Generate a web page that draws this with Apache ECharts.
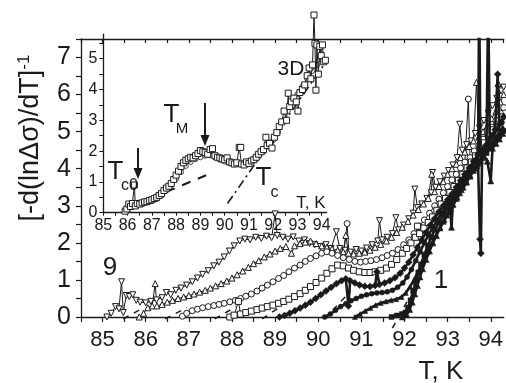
<!DOCTYPE html>
<html><head><meta charset="utf-8">
<script src="https://cdn.jsdelivr.net/npm/echarts@6/dist/echarts.min.js"></script>
<style>html,body{margin:0;padding:0;background:#fff}#c{width:506px;height:383px}</style>
</head><body><div id="c"></div>
<script>
// ---- main panel data: curves 9 .. 1 ([T, value]) ----
const curve9 = [[85.10,0.00],[85.20,0.10],[85.30,0.28],[85.38,0.22],[85.44,0.95],[85.48,0.12],[85.55,0.58],[85.62,0.55],[85.70,0.60],[85.78,0.45],[85.87,0.40],[86.00,0.38],[86.12,0.42],[86.25,0.46],[86.38,0.52],[86.48,0.66],[86.58,0.60],[86.70,0.72],[86.82,0.78],[86.95,0.86],[87.08,0.95],[87.20,1.05],[87.32,1.15],[87.45,1.25],[87.58,1.38],[87.70,1.48],[87.82,1.62],[87.94,1.78],[88.05,1.92],[88.18,2.05],[88.30,2.10],[88.42,2.08],[88.55,2.15],[88.68,2.12],[88.80,2.18],[88.92,2.14],[89.00,2.78],[89.05,2.20],[89.18,2.15],[89.30,2.10],[89.42,2.16],[89.55,2.05],[89.68,2.08],[89.80,1.98],[89.92,1.95],[90.05,1.90],[90.18,1.95],[90.30,1.85],[90.42,2.30],[90.50,1.85],[90.62,1.80],[90.75,1.75],[90.88,1.82],[91.00,1.78],[91.12,1.86],[91.25,1.95],[91.38,2.05],[91.42,2.60],[91.48,2.08],[91.60,2.15],[91.72,2.25],[91.80,2.68],[91.86,2.35],[91.98,2.48],[92.10,2.65],[92.20,2.80],[92.24,3.45],[92.30,2.95],[92.40,3.05],[92.52,3.20],[92.62,3.35],[92.65,3.90],[92.72,3.50],[92.82,3.65],[92.92,3.80],[93.02,3.95],[93.12,4.10],[93.22,4.30],[93.28,5.20],[93.34,4.50],[93.44,4.65],[93.54,4.75],[93.64,4.95],[93.74,5.10],[93.84,5.30],[93.94,5.50],[94.04,5.70],[94.14,5.90],[94.24,6.10],[94.30,6.20]];
const curve8 = [[85.85,0.00],[85.95,0.10],[86.05,0.25],[86.15,0.30],[86.22,0.90],[86.26,0.30],[86.38,0.34],[86.50,0.40],[86.62,0.45],[86.75,0.50],[86.88,0.54],[87.00,0.58],[87.12,0.62],[87.25,0.67],[87.38,0.72],[87.50,0.78],[87.62,0.84],[87.75,0.90],[87.88,0.97],[88.00,1.05],[88.12,1.14],[88.25,1.24],[88.38,1.34],[88.50,1.44],[88.62,1.52],[88.75,1.62],[88.88,1.70],[89.00,1.78],[89.12,1.85],[89.25,1.90],[89.38,1.72],[89.45,1.92],[89.58,1.98],[89.70,2.02],[89.82,2.05],[89.95,1.98],[90.08,1.92],[90.20,1.88],[90.32,1.84],[90.45,1.80],[90.58,1.76],[90.64,2.20],[90.70,1.72],[90.82,1.70],[90.95,1.72],[91.08,1.75],[91.20,1.80],[91.32,1.88],[91.45,1.96],[91.58,2.05],[91.70,2.15],[91.82,2.28],[91.95,2.42],[92.08,2.58],[92.20,2.75],[92.32,2.90],[92.44,3.05],[92.55,3.20],[92.63,3.85],[92.70,3.38],[92.80,3.52],[92.90,3.65],[93.00,3.85],[93.10,4.00],[93.20,4.12],[93.30,4.30],[93.40,4.45],[93.50,4.60],[93.60,4.75],[93.67,6.33],[93.72,4.85],[93.82,5.00],[93.92,5.15],[94.02,5.35],[94.12,5.55],[94.17,6.30],[94.22,5.80],[94.30,6.00]];
const curve7 = [[86.85,0.02],[86.95,0.10],[87.08,0.17],[87.20,0.21],[87.32,0.25],[87.45,0.28],[87.58,0.31],[87.70,0.34],[87.82,0.37],[87.95,0.41],[88.08,0.45],[88.20,0.50],[88.32,0.56],[88.45,0.62],[88.58,0.70],[88.70,0.78],[88.82,0.86],[88.95,0.95],[89.08,1.04],[89.20,1.12],[89.32,1.22],[89.45,1.32],[89.58,1.40],[89.70,1.50],[89.82,1.58],[89.95,1.65],[90.08,1.72],[90.20,1.76],[90.32,1.72],[90.45,1.66],[90.58,1.60],[90.67,2.52],[90.72,1.55],[90.85,1.50],[90.98,1.48],[91.10,1.50],[91.22,1.52],[91.35,1.55],[91.48,1.60],[91.60,1.66],[91.72,1.72],[91.85,1.82],[91.98,1.95],[92.10,2.08],[92.22,2.25],[92.34,2.45],[92.46,2.62],[92.58,2.80],[92.70,3.00],[92.80,3.18],[92.90,3.35],[93.00,3.52],[93.10,3.70],[93.20,3.85],[93.30,4.02],[93.40,4.18],[93.48,5.88],[93.52,4.30],[93.62,4.48],[93.72,4.62],[93.82,4.80],[93.92,4.95],[94.02,5.12],[94.12,5.30],[94.22,5.50],[94.30,5.65]];
const curve6 = [[87.95,0.00],[88.05,0.05],[88.15,0.42],[88.20,0.08],[88.32,0.12],[88.45,0.16],[88.58,0.20],[88.70,0.24],[88.82,0.28],[88.95,0.32],[89.08,0.37],[89.20,0.42],[89.32,0.48],[89.45,0.55],[89.58,0.63],[89.70,0.72],[89.82,0.82],[89.95,0.93],[90.08,1.05],[90.20,1.18],[90.32,1.30],[90.45,1.40],[90.58,1.38],[90.70,1.32],[90.82,1.26],[90.95,1.22],[91.08,1.20],[91.20,1.20],[91.32,1.22],[91.45,1.26],[91.58,1.32],[91.70,1.42],[91.82,1.55],[91.95,1.72],[92.05,1.85],[92.15,2.00],[92.25,2.15],[92.30,2.45],[92.35,2.25],[92.45,2.40],[92.55,2.55],[92.65,2.70],[92.75,2.88],[92.85,3.05],[92.95,3.20],[93.05,3.36],[93.15,3.52],[93.25,3.68],[93.35,3.85],[93.45,4.02],[93.55,4.18],[93.65,4.35],[93.75,4.55],[93.85,4.70],[93.95,4.88],[94.05,5.05],[94.15,5.20],[94.25,5.40]];
const curve5 = [[89.10,0.00],[89.22,0.04],[89.34,0.10],[89.46,0.17],[89.58,0.24],[89.70,0.32],[89.82,0.40],[89.94,0.50],[90.06,0.60],[90.18,0.70],[90.30,0.80],[90.42,0.90],[90.54,0.98],[90.64,1.03],[90.70,0.30],[90.74,0.98],[90.85,0.92],[90.96,0.86],[91.08,0.83],[91.20,0.82],[91.32,0.85],[91.36,1.22],[91.42,0.88],[91.54,0.92],[91.66,0.98],[91.78,1.06],[91.90,1.18],[92.00,1.32],[92.10,1.48],[92.20,1.68],[92.30,1.88],[92.40,2.08],[92.50,2.28],[92.60,2.48],[92.70,2.66],[92.80,2.84],[92.90,3.00],[93.00,3.16],[93.10,3.32],[93.20,3.50],[93.30,3.68],[93.40,3.85],[93.50,4.02],[93.60,4.20],[93.70,4.38],[93.75,2.10],[93.77,1.72],[93.80,4.50],[93.90,4.65],[94.00,4.85],[94.10,5.05],[94.16,6.55],[94.20,5.20],[94.30,5.40]];
const curve4 = [[90.15,0.00],[90.28,0.08],[90.40,0.18],[90.52,0.28],[90.64,0.36],[90.76,0.44],[90.88,0.50],[91.00,0.56],[91.12,0.60],[91.24,0.63],[91.36,0.65],[91.48,0.66],[91.60,0.68],[91.72,0.72],[91.84,0.80],[91.96,0.92],[92.06,1.08],[92.16,1.28],[92.26,1.52],[92.36,1.76],[92.46,2.00],[92.56,2.22],[92.66,2.42],[92.76,2.62],[92.86,2.80],[92.96,2.98],[93.06,3.15],[93.16,3.32],[93.26,3.50],[93.36,3.68],[93.46,3.85],[93.56,4.02],[93.66,4.20],[93.71,4.40],[93.73,9.00],[93.76,4.40],[93.86,4.55],[93.96,4.72],[94.06,4.90],[94.16,5.08],[94.26,5.25]];
const curve3 = [[90.85,0.00],[90.97,0.08],[91.09,0.16],[91.21,0.24],[91.33,0.32],[91.45,0.38],[91.57,0.42],[91.69,0.45],[91.81,0.48],[91.93,0.54],[92.03,0.65],[92.13,0.82],[92.23,1.02],[92.33,1.25],[92.43,1.50],[92.53,1.75],[92.63,1.98],[92.73,2.20],[92.83,2.42],[92.93,2.62],[93.03,2.82],[93.13,3.02],[93.23,3.22],[93.33,3.42],[93.43,3.62],[93.53,3.82],[93.63,4.00],[93.73,4.18],[93.83,4.35],[93.90,4.50],[93.94,8.50],[93.98,4.60],[94.08,4.78],[94.18,4.95],[94.28,5.12]];
const curve2 = [[91.70,0.00],[91.82,0.04],[91.94,0.08],[92.02,0.12],[92.08,0.25],[92.14,0.45],[92.20,0.70],[92.26,0.95],[92.32,1.20],[92.38,1.42],[92.46,1.68],[92.54,1.92],[92.62,2.15],[92.70,2.35],[92.80,2.55],[92.90,2.75],[93.00,2.95],[93.10,3.12],[93.20,3.30],[93.30,3.48],[93.40,3.65],[93.50,3.82],[93.60,3.98],[93.70,4.12],[93.80,4.28],[93.90,4.42],[94.00,4.58],[94.10,4.72],[94.20,4.88],[94.30,5.02]];
const curve1 = [[91.95,0.00],[92.05,0.06],[92.12,0.20],[92.18,0.40],[92.24,0.62],[92.30,0.85],[92.36,1.08],[92.42,1.30],[92.50,1.55],[92.58,1.78],[92.66,2.00],[92.74,2.20],[92.82,2.40],[92.90,2.58],[92.98,2.75],[93.06,2.92],[93.09,2.42],[93.12,3.05],[93.20,3.20],[93.28,3.35],[93.36,3.50],[93.44,3.65],[93.52,3.80],[93.60,3.95],[93.68,4.08],[93.76,4.22],[93.84,4.35],[93.92,4.20],[94.00,3.67],[94.04,4.55],[94.12,4.68],[94.20,4.80],[94.28,4.95]];
// dashed onset tangents (main), short visible stubs near the axis
const tangents = [
  [[85.48,-0.05],[85.95,0.25]],
  [[86.45,-0.05],[86.95,0.25]],
  [[87.60,-0.05],[88.10,0.28]],
  [[88.70,-0.05],[89.15,0.30]],
  [[90.15,-0.05],[90.75,0.70]],
  [[91.72,-0.30],[92.10,0.50]]
];
// ---- inset data ----
const insetSquares = [[85.90,0.05],[85.97,0.12],[86.05,0.28],[86.12,0.20],[86.20,0.30],[86.28,0.90],[86.32,0.22],[86.40,0.30],[86.50,0.28],[86.60,0.32],[86.70,0.35],[86.80,0.36],[86.90,0.40],[87.00,0.42],[87.10,0.46],[87.20,0.50],[87.30,0.56],[87.40,0.62],[87.50,0.72],[87.60,0.80],[87.70,0.86],[87.80,0.95],[87.90,1.08],[88.00,1.22],[88.10,1.35],[88.20,1.50],[88.30,1.62],[88.40,1.70],[88.50,1.75],[88.60,1.80],[88.70,1.78],[88.80,1.85],[88.90,1.92],[89.00,2.02],[89.10,1.98],[89.20,1.95],[89.30,1.90],[89.40,2.05],[89.50,2.08],[89.60,1.85],[89.70,1.80],[89.80,1.78],[89.90,1.75],[90.00,1.72],[90.10,1.78],[90.20,1.65],[90.30,1.62],[90.40,1.58],[90.50,1.62],[90.60,2.12],[90.66,2.12],[90.70,1.58],[90.80,1.55],[90.90,1.65],[91.00,1.60],[91.10,1.68],[91.20,1.72],[91.30,1.80],[91.40,1.90],[91.50,1.98],[91.60,2.05],[91.70,2.45],[91.75,2.18],[91.85,2.25],[91.95,2.10],[92.05,2.45],[92.15,2.60],[92.25,2.80],[92.35,2.95],[92.45,3.30],[92.55,3.00],[92.62,3.88],[92.68,3.45],[92.75,3.60],[92.85,3.72],[92.95,3.60],[93.02,3.30],[93.10,3.90],[93.20,4.00],[93.30,4.15],[93.40,4.45],[93.48,4.70],[93.55,4.35],[93.62,4.80],[93.68,6.42],[93.72,5.50],[93.76,3.98],[93.80,5.45],[93.86,4.50],[93.92,5.40],[93.98,5.10],[94.03,5.45],[94.08,4.90],[94.15,4.95]];
const insetCircles = [[86.00,0.08],[86.20,0.22],[86.40,0.25],[86.60,0.28],[86.80,0.33],[87.00,0.38],[87.20,0.45],[87.40,0.56],[87.60,0.72],[87.80,0.90],[88.00,1.10],[88.20,1.32],[88.40,1.52],[88.60,1.65],[88.80,1.74],[89.00,1.80],[89.20,1.85],[89.40,1.86],[89.60,1.80],[89.80,1.72],[90.00,1.66],[90.20,1.62],[90.40,1.60],[90.60,1.60],[90.80,1.62],[91.00,1.66],[91.20,1.72],[91.40,1.82],[91.60,1.98],[91.80,2.15],[92.00,2.35],[92.20,2.62],[92.40,2.95],[92.60,3.30],[92.80,3.60],[93.00,3.85],[93.20,4.10],[93.40,4.35],[93.60,4.60],[93.80,4.80],[94.00,5.00],[94.10,4.90]];
const insetMFLine = [[87.60,0.68],[89.40,1.27]];
const inset3DLine = [[90.12,0.30],[95.10,5.95]];
// tick label sets
const mainXLabels = [85,86,87,88,89,90,91,92,93,94];
const mainYLabels = [0,1,2,3,4,5,6,7];
const insetXLabels = [85,86,87,88,89,90,91,92,93,94];
const insetYLabels = [0,1,2,3,4,5];

const INK = '#1a1a1a';
const FONT = 'Liberation Sans, Arial, sans-serif';
const isLab = (arr) => (v) => arr.some(a => Math.abs(a - v) < 1e-6) ? String(Math.round(v)) : '';

const chart = echarts.init(document.getElementById('c'), null, {renderer:'canvas'});

function openSeries(data, symbol, rot, size){
  return {type:'line', xAxisIndex:0, yAxisIndex:0, data, symbol, symbolRotate:rot||0, symbolSize:size||6,
    showAllSymbol:true, animation:false, silent:true, z:3,
    itemStyle:{color:'#fff', borderColor:INK, borderWidth:1},
    lineStyle:{color:INK, width:1}};
}
function filledSeries(data, symbol, size){
  return {type:'line', xAxisIndex:0, yAxisIndex:0, data, symbol, symbolSize:size||5,
    showAllSymbol:true, animation:false, silent:true, z:4,
    itemStyle:{color:INK, borderColor:INK, borderWidth:0.5},
    lineStyle:{color:INK, width:2.6}};
}
const series = [
  openSeries(curve9,'triangle',180,6),
  openSeries(curve8,'triangle',0,6),
  openSeries(curve7,'circle',0,6),
  openSeries(curve6,'rect',0,6),
  filledSeries(curve5,'diamond',7),
  filledSeries(curve4,'circle',5),
  filledSeries(curve3,'triangle',5),
  filledSeries(curve2,'rect',5),
  filledSeries(curve1,'triangle',6)
];
tangents.forEach(t => series.push({type:'line', xAxisIndex:0, yAxisIndex:0, data:t, symbol:'none', clip:false,
  animation:false, silent:true, z:2, lineStyle:{color:INK, width:1.5, type:[6,6]}}));
series.push({type:'line', xAxisIndex:2, yAxisIndex:1, data:insetCircles, symbol:'circle', symbolSize:5,
  showAllSymbol:true, clip:false, animation:false, silent:true, z:3,
  itemStyle:{color:'#fff', borderColor:'#444', borderWidth:1}, lineStyle:{color:'#444', width:1}});
series.push({type:'line', xAxisIndex:2, yAxisIndex:1, data:insetSquares, symbol:'rect', symbolSize:6,
  showAllSymbol:true, clip:false, animation:false, silent:true, z:4,
  itemStyle:{color:'#fff', borderColor:INK, borderWidth:1}, lineStyle:{color:INK, width:1}});
series.push({type:'line', xAxisIndex:2, yAxisIndex:1, data:insetMFLine, symbol:'none', clip:false,
  animation:false, silent:true, z:2, lineStyle:{color:INK, width:2, type:[9,8]}});
series.push({type:'line', xAxisIndex:2, yAxisIndex:1, data:inset3DLine, symbol:'none', clip:false,
  animation:false, silent:true, z:2, lineStyle:{color:INK, width:1.6, type:[9,4,2,4]}});

const axLine = {show:true, lineStyle:{color:INK, width:1.3}};
chart.setOption({
  backgroundColor:'#fff',
  animation:false,
  grid:[
    {left:81, top:39, width:424.3, height:278},
    {left:103.3, top:34.1, width:223.3, height:178.6}
  ],
  xAxis:[
    {type:'value', gridIndex:0, min:84.5, max:94.3, interval:0.5, position:'bottom',
     axisLine:axLine, axisTick:{show:true, inside:false, length:5, lineStyle:{color:INK, width:1.2}},
     splitLine:{show:false},
     axisLabel:{formatter:isLab(mainXLabels), fontSize:22, fontFamily:FONT, color:INK, margin:12, showMaxLabel:false}},
    {type:'value', gridIndex:0, min:84.5, max:94.3, interval:0.5, position:'top',
     axisLine:axLine, axisTick:{show:true, inside:true, length:4, lineStyle:{color:INK, width:1.2}},
     splitLine:{show:false}, axisLabel:{show:false}},
    {type:'value', gridIndex:1, min:85, max:94.2, interval:0.5, position:'bottom',
     axisLine:axLine, axisTick:{show:true, inside:false, length:3, lineStyle:{color:INK}},
     splitLine:{show:false},
     axisLabel:{formatter:isLab(insetXLabels), fontSize:16, fontFamily:FONT, color:INK, margin:5, showMaxLabel:false}}
  ],
  yAxis:[
    {type:'value', gridIndex:0, min:0, max:7.5, interval:0.5,
     axisLine:axLine, axisTick:{show:true, inside:false, length:5, lineStyle:{color:INK, width:1.2}},
     splitLine:{show:false},
     axisLabel:{formatter:isLab(mainYLabels), fontSize:25, fontFamily:FONT, color:INK, margin:10}},
    {type:'value', gridIndex:1, min:0, max:5.8, interval:0.5,
     axisLine:axLine, axisTick:{show:true, inside:false, length:4, lineStyle:{color:INK}},
     splitLine:{show:false},
     axisLabel:{formatter:isLab(insetYLabels), fontSize:16, fontFamily:FONT, color:INK, margin:6, showMaxLabel:false}}
  ],
  series
});

function txt(text, x, y, size, extra){
  return Object.assign({type:'text', z:50, silent:true, x, y,
    style:{text, fontSize:size, fontFamily:FONT, fill:INK, align:'center', verticalAlign:'middle'}}, extra||{});
}
function arrow(x, y1, y2){
  return [
    {type:'line', z:50, silent:true, shape:{x1:x, y1:y1, x2:x, y2:y2-8}, style:{stroke:INK, lineWidth:2}},
    {type:'polygon', z:50, silent:true, shape:{points:[[x-4.5,y2-11],[x+4.5,y2-11],[x,y2]]}, style:{fill:INK}}
  ];
}
chart.setOption({graphic:[
  {type:'text', z:50, silent:true, x:31, y:138, rotation:Math.PI/2,
   style:{text:'{a|[-d(ln\u0394\u03c3)/dT]}{b|-1}', align:'center', verticalAlign:'middle', fill:INK,
     rich:{a:{fontSize:27, fontFamily:FONT, fill:INK, lineHeight:30}, b:{fontSize:17, fontFamily:FONT, fill:INK, verticalAlign:'top', lineHeight:30}}}},
  txt('T, K', 441, 372, 26),
  txt('9', 110, 268, 26),
  txt('1', 441, 281, 26),
  txt('T, K', 311, 203, 17),
  txt('3D', 291, 69, 21),
  txt('T', 171.5, 115, 26), txt('M', 182, 129, 15),
  txt('T', 115.5, 171.5, 26), txt('c0', 129.5, 186, 16),
  txt('T', 263.5, 177.5, 26), txt('c', 274.5, 192.5, 16),
  ...arrow(205, 103, 146),
  ...arrow(138, 148, 179)
]});
</script></body></html>
